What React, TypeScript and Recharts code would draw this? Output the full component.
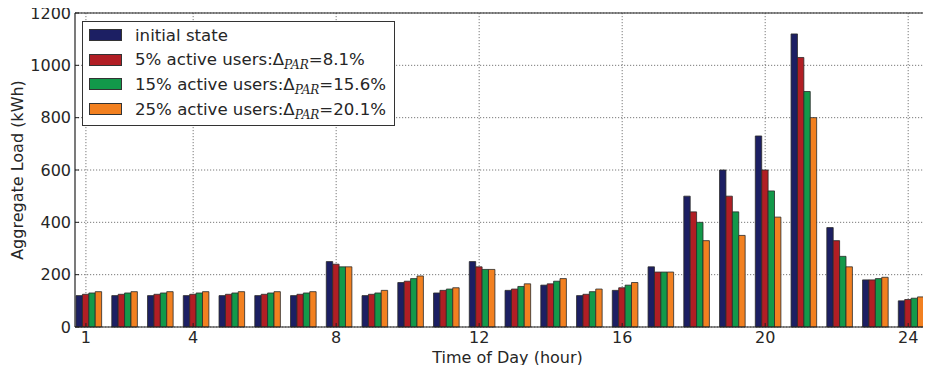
import { BarChart, Bar, XAxis, YAxis, CartesianGrid, Legend, ReferenceLine } from "recharts";

const hours = [1, 2, 3, 4, 5, 6, 7, 8, 9, 10, 11, 12, 13, 14, 15, 16, 17, 18, 19, 20, 21, 22, 23, 24];
const initialState = [120, 120, 120, 120, 120, 120, 120, 250, 120, 170, 130, 250, 140, 160, 120, 140, 230, 500, 600, 730, 1120, 380, 180, 100];
const active5 = [125, 125, 125, 125, 125, 125, 125, 240, 125, 175, 140, 230, 145, 165, 125, 150, 210, 440, 500, 600, 1030, 330, 180, 105];
const active15 = [130, 130, 130, 130, 130, 130, 130, 230, 130, 185, 145, 220, 155, 175, 135, 160, 210, 400, 440, 520, 900, 270, 185, 110];
const active25 = [135, 135, 135, 135, 135, 135, 135, 230, 140, 195, 150, 220, 165, 185, 145, 170, 210, 330, 350, 420, 800, 230, 190, 115];

const seriesKeys = ["initial", "a5", "a15", "a25"];
const seriesNames = [
  "initial state",
  "5% active users:Δ_PAR=8.1%",
  "15% active users:Δ_PAR=15.6%",
  "25% active users:Δ_PAR=20.1%",
];
const seriesColors = ["#1c1f63", "#b11e24", "#12994a", "#f28020"];
const seriesValues = [initialState, active5, active15, active25];

const xTicks = [1, 4, 8, 12, 16, 20, 24];
const yTicks = [0, 200, 400, 600, 800, 1000, 1200];

const data = hours.map((hour, i) => {
  const row: Record<string, number> = { hour };
  seriesKeys.forEach((k, s) => (row[k] = seriesValues[s][i]));
  return row;
});

const X_DOMAIN: [number, number] = [0.611, 24.806];
const FONT = "'DejaVu Sans', sans-serif";
const TEXT = "#262626";
// matplotlib put its tick labels a bit left of each bar group
const TICK_SHIFT = -3;

const formatName = (s: string) => {
  const parts = s.split("_PAR");
  if (parts.length < 2) return s;
  return (
    <>
      {parts[0]}
      <span style={{ fontFamily: "'DejaVu Serif', serif", fontStyle: "italic", fontSize: 12, position: "relative", top: 4 }}>
        PAR
      </span>
      {parts[1]}
    </>
  );
};

const renderLegend = (props: any) => {
  const items = [...(props.payload || [])].sort(
    (a: any, b: any) => seriesNames.indexOf(a.value) - seriesNames.indexOf(b.value)
  );
  return (
    <div
      style={{
        border: "1px solid #333",
        background: "#fff",
        padding: "1px 8px 4px 6px",
        fontFamily: FONT,
        fontSize: 16.6,
        color: TEXT,
      }}
    >
      {items.map((p: any) => (
        <div key={p.value} style={{ display: "flex", alignItems: "center", height: 24.6 }}>
          <span
            style={{
              width: 33,
              height: 12,
              background: p.color,
              border: "1px solid #333",
              boxSizing: "border-box",
              marginRight: 13,
              flex: "none",
            }}
          />
          <span style={{ whiteSpace: "nowrap" }}>{formatName(p.value)}</span>
        </div>
      ))}
    </div>
  );
};

const XTick = (props: any) => {
  const { x, y, payload } = props;
  const cx = x + TICK_SHIFT;
  return (
    <g>
      <line x1={cx} x2={cx} y1={y - 4} y2={y - 8} stroke="#222" strokeWidth={1} />
      <text x={cx} y={y} dy={11.5} textAnchor="middle" fill={TEXT} fontFamily={FONT} fontSize={16}>
        {payload.value}
      </text>
    </g>
  );
};

// same linear mapping as the x axis, shifted like the tick labels
const gridX = ({ offset }: any) =>
  xTicks.map(
    (t) => offset.left + ((t - X_DOMAIN[0]) / (X_DOMAIN[1] - X_DOMAIN[0])) * offset.width + TICK_SHIFT
  );

export default function App() {
  return (
    <div style={{ margin: -8, width: 931, height: 373, overflow: "hidden", background: "#fff" }}>
      <BarChart
        width={940}
        height={373}
        data={data}
        margin={{ top: 13, right: 0, bottom: 0, left: 0 }}
        barSize={6.4}
        barGap={0}
      >
        <CartesianGrid
          stroke="#7a7a7a"
          strokeDasharray="1.2 1.8"
          horizontalValues={yTicks}
          verticalCoordinatesGenerator={gridX}
        />
        <XAxis
          type="number"
          dataKey="hour"
          domain={X_DOMAIN}
          allowDataOverflow
          ticks={xTicks}
          interval={0}
          height={46}
          tickSize={0}
          tickMargin={4}
          tickLine={false}
          tick={<XTick />}
          axisLine={{ stroke: "#222", strokeWidth: 1.2 }}
          label={{
            value: "Time of Day (hour)",
            position: "insideBottom",
            offset: 10,
            fill: TEXT,
            style: { fontFamily: FONT, fontSize: 16 },
          }}
        />
        <YAxis
          type="number"
          domain={[0, 1200]}
          ticks={yTicks}
          interval={0}
          width={75}
          tickSize={-4}
          tickMargin={8}
          tickLine={{ stroke: "#222" }}
          axisLine={{ stroke: "#222", strokeWidth: 1.2 }}
          tick={{ fill: TEXT, fontFamily: FONT, fontSize: 16 }}
          label={{
            value: "Aggregate Load (kWh)",
            angle: -90,
            position: "center",
            dx: -20,
            fill: TEXT,
            style: { fontFamily: FONT, fontSize: 16, textAnchor: "middle" },
          }}
        />
        <ReferenceLine y={1200} stroke="#222" strokeWidth={1.2} />
        {seriesKeys.map((k, i) => (
          <Bar
            key={k}
            dataKey={k}
            name={seriesNames[i]}
            fill={seriesColors[i]}
            stroke="#2a2a2a"
            strokeWidth={0.8}
            isAnimationActive={false}
          />
        ))}
        <Legend
          layout="vertical"
          align="center"
          verticalAlign="middle"
          content={renderLegend}
          wrapperStyle={{ left: 82, top: 21, width: "auto", height: "auto" }}
        />
      </BarChart>
    </div>
  );
}
